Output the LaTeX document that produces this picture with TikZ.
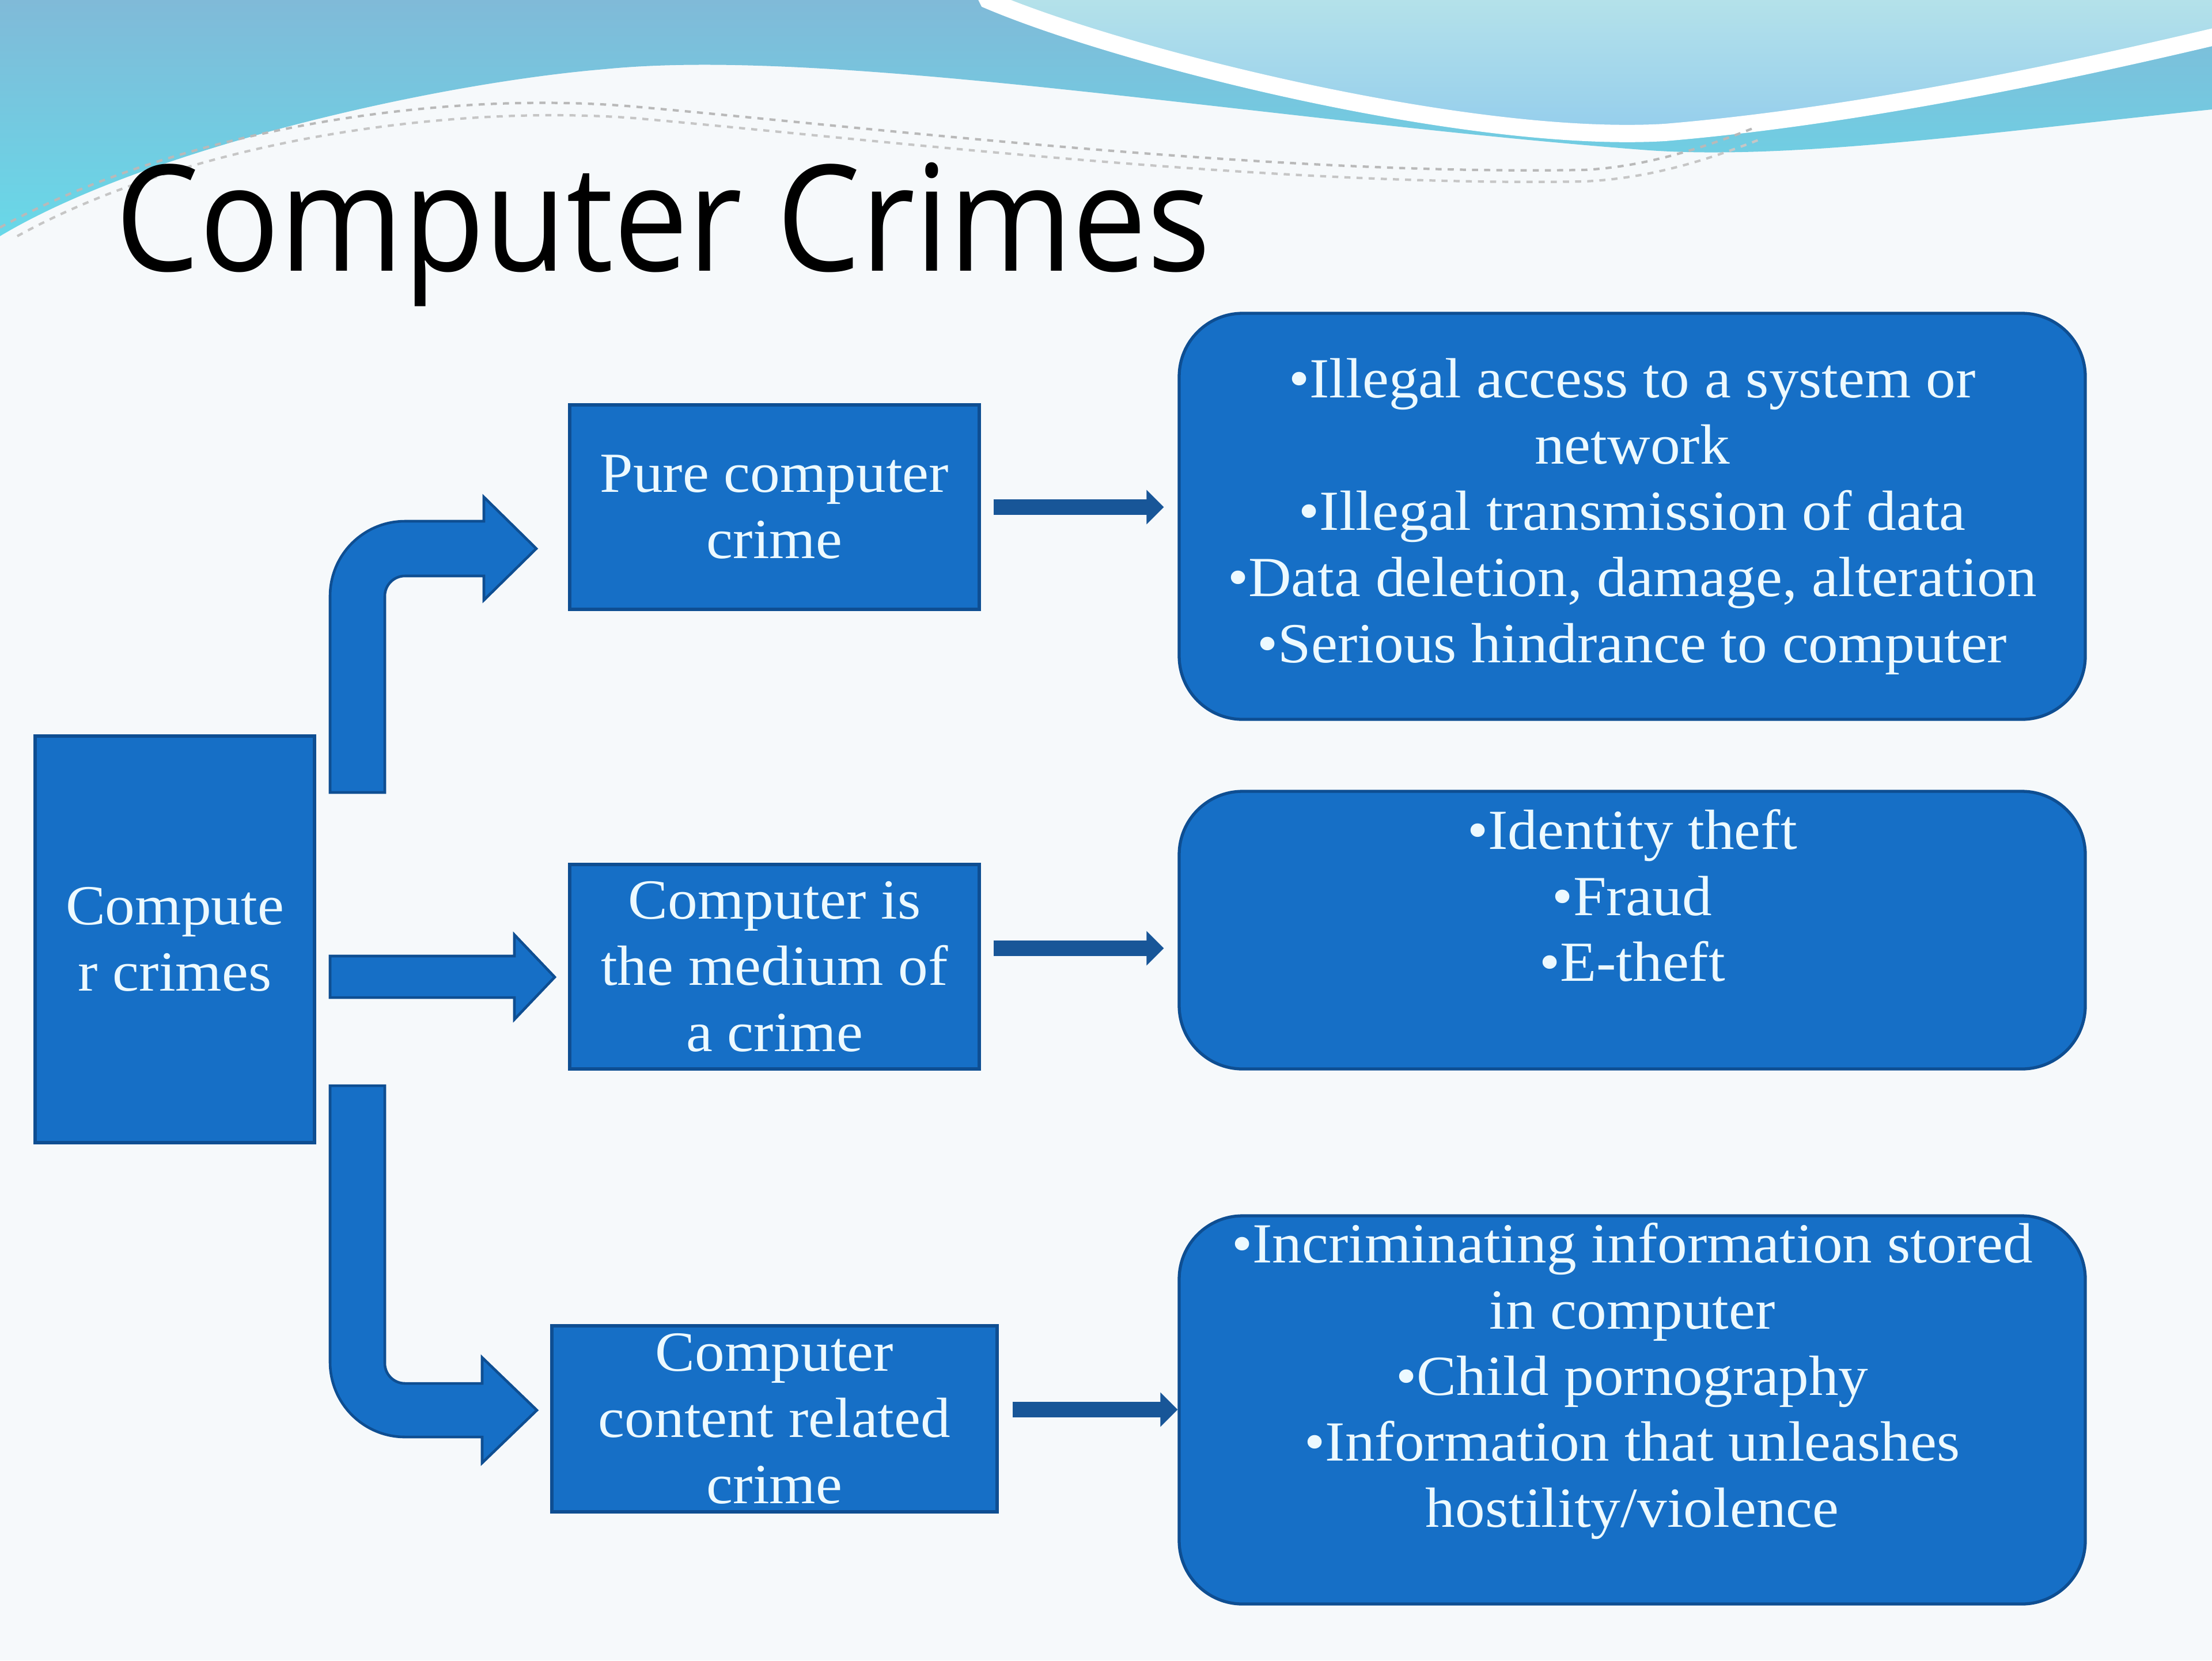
\documentclass[tikz,border=0pt]{standalone}
\usepackage{fontspec}
\setmainfont[FakeStretch=1.05]{Liberation Serif}
\newfontfamily\titlefont[FakeStretch=0.9]{Open Sans}
\usetikzlibrary{arrows.meta}

\definecolor{boxblue}{RGB}{22,111,198}
\definecolor{edgeblue}{RGB}{14,78,146}
\definecolor{linkblue}{RGB}{24,86,152}
\definecolor{boxtext}{RGB}{236,249,255}
\definecolor{pagebg}{RGB}{246,249,251}
\definecolor{wavetop}{RGB}{128,186,216}
\definecolor{wavebot}{RGB}{104,216,232}
\definecolor{bubtop}{RGB}{184,228,234}
\definecolor{bubbot}{RGB}{146,204,236}

\begin{document}
\begin{tikzpicture}[
        catbox/.style={rectangle, draw=edgeblue, line width=1.5pt, fill=boxblue, text=boxtext, align=center, inner sep=0pt,
            font=\fontsize{28}{32.7}\selectfont},
        infobox/.style={catbox, rounded corners=1.1cm},
        fatarrow/.style={fill=boxblue, draw=edgeblue, line width=1.3pt, line join=miter},
        link/.style={-{Triangle[length=0.3cm, width=0.58cm]}, line width=0.27cm, draw=linkblue}
    ]
        \useasboundingbox (0,0) rectangle (38.4,-28.83);
        \fill[pagebg] (0,0) rectangle (38.4,-28.83);

        % header waves
        \begin{scope}
            \clip (0,0) rectangle (38.4,-28.83);
            \shade[top color=wavetop, bottom color=wavebot] (0,0) -- (38.4,0) -- (38.4,-1.9)
                .. controls (34.5,-2.3) and (31,-2.8) .. (28.5,-2.6)
                .. controls (22,-2.1) and (14.5,-0.8) .. (10.5,-1.2)
                .. controls (7.5,-1.45) and (2.5,-2.6) .. (0,-4.1) -- cycle;
            \shade[top color=bubtop, bottom color=bubbot, draw=white, line width=0.3cm] (17.0,0.3) -- (17.15,0)
                .. controls (19.5,-1.0) and (25.5,-2.5) .. (28.9,-2.3)
                .. controls (32.5,-2.0) and (36.5,-1.1) .. (38.6,-0.6) -- (38.6,0.3) -- cycle;
            \draw[gray!55, dashed, line width=1.2pt] (0,-3.95) .. controls (3,-2.3) and (7.5,-1.55) .. (11,-1.85)
                .. controls (15,-2.2) and (22,-3.05) .. (27.5,-2.95) .. controls (28.5,-2.9) and (29.5,-2.6) .. (30.5,-2.2);
            \draw[gray!45, dashed, line width=1.2pt] (0.3,-4.1) .. controls (3.2,-2.5) and (7.6,-1.8) .. (11,-2.05)
                .. controls (15,-2.4) and (22,-3.25) .. (27.5,-3.15) .. controls (28.6,-3.1) and (29.6,-2.8) .. (30.6,-2.4);
        \end{scope}

        \node[anchor=base west, font=\titlefont\fontsize{73}{80}\selectfont] (title) at (1.88,-4.70) {Computer Crimes};

        \node[catbox, minimum width=4.85cm, minimum height=7.06cm] (crimes) at (3.035,-16.31) {Compute\\r crimes};
        \node[catbox, minimum width=7.11cm, minimum height=3.55cm] (pure) at (13.445,-8.805) {Pure computer\\crime};
        \node[catbox, minimum width=7.11cm, minimum height=3.55cm] (medium) at (13.445,-16.785) {Computer is\\the medium of\\a crime};
        \node[catbox, minimum width=7.73cm, minimum height=3.23cm] (content) at (13.445,-24.635) {Computer\\content related\\crime};

        \node[infobox, minimum width=15.73cm, minimum height=7.05cm] (access) at (28.335,-8.965)
            {\textbullet Illegal access to a system or\\network\\\textbullet Illegal transmission of data\\\textbullet Data deletion, damage, alteration\\\textbullet Serious hindrance to computer};
        \node[infobox, minimum width=15.73cm, minimum height=4.82cm] (theft) at (28.335,-16.15)
            {\textbullet Identity theft\\\textbullet Fraud\\\textbullet E-theft\\[-8pt]\strut};
        \node[infobox, minimum width=15.73cm, minimum height=6.74cm] (stored) at (28.335,-24.48)
            {\textbullet Incriminating information stored\\in computer\\\textbullet Child pornography\\\textbullet Information that unleashes\\hostility/violence\\[-8pt]\strut};

        % block arrows out of the left box
        \filldraw[fatarrow] (5.73,-13.76) -- (5.73,-10.35) arc[start angle=180, end angle=90, radius=1.3]
            -- (8.40,-9.05) -- (8.40,-8.63) -- (9.31,-9.525) -- (8.40,-10.42) -- (8.40,-10.00)
            -- (7.03,-10.00) arc[start angle=90, end angle=180, radius=0.35] -- (6.68,-13.76) -- cycle;
        \filldraw[fatarrow] (5.73,-16.60) -- (8.93,-16.60) -- (8.93,-16.23) -- (9.63,-16.965)
            -- (8.93,-17.70) -- (8.93,-17.32) -- (5.73,-17.32) -- cycle;
        \filldraw[fatarrow] (5.73,-18.85) -- (5.73,-23.65) arc[start angle=180, end angle=270, radius=1.3]
            -- (8.37,-24.95) -- (8.37,-25.40) -- (9.32,-24.485) -- (8.37,-23.57) -- (8.37,-24.02)
            -- (7.03,-24.02) arc[start angle=270, end angle=180, radius=0.35] -- (6.68,-18.85) -- cycle;

        \coordinate (m1) at ([yshift=3.2mm]medium.east);
        \coordinate (c1) at ([yshift=1.6mm]content.east);
        \draw[link, shorten <=0.22cm, shorten >=0.24cm] (pure.east) -- (pure.east -| access.west);
        \draw[link, shorten <=0.22cm, shorten >=0.24cm] (m1) -- (m1 -| theft.west);
        \draw[link, shorten <=0.24cm] (c1) -- (c1 -| stored.west);
    \end{tikzpicture}
\end{document}
